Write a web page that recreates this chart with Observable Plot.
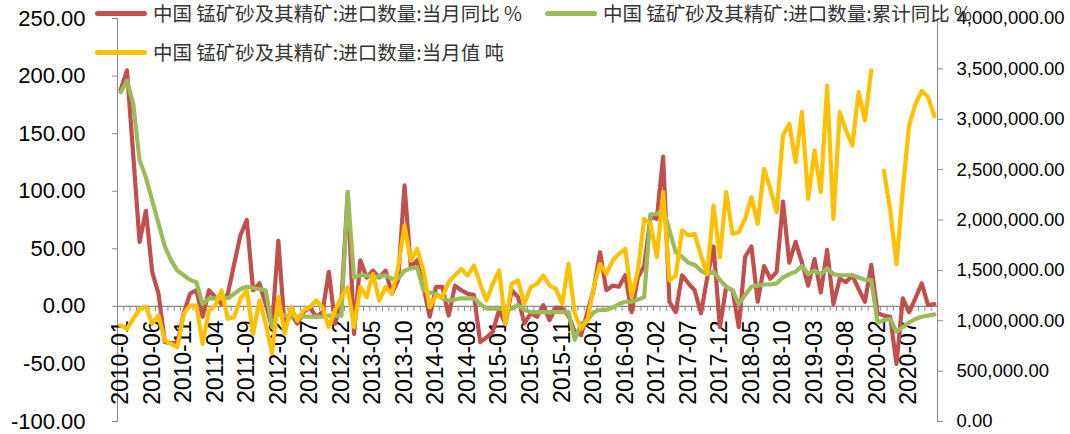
<!DOCTYPE html>
<html><head><meta charset="utf-8">
<script src="https://cdn.jsdelivr.net/npm/d3@7"></script>
<script src="https://cdn.jsdelivr.net/npm/@observablehq/plot@0.6"></script>
<style>
body{margin:0;background:#fff;}
#wrap{position:relative;width:1070px;height:434px;overflow:hidden;background:#fff;}
#wrap svg{position:absolute;left:0;top:0;background:transparent;}
.lg{position:absolute;display:flex;align-items:center;font-family:"Noto Sans CJK SC",sans-serif;font-size:19.5px;line-height:26px;color:#333;white-space:nowrap;}
.sw{width:52px;height:5px;border-radius:3px;margin-right:6px;}
</style></head><body><div id="wrap"></div>
<script>
// ---- categories (monthly; 2020-01 not reported) ----
const categories = [];
for (let y = 2010; y <= 2020; y++) for (let m = 1; m <= 12; m++) {
  const c = `${y}-${String(m).padStart(2, "0")}`;
  if (c === "2020-01") continue;
  if (c > "2020-11") continue;
  categories.push(c);
}
// ---- series ----
const seriesNames = [
  "中国 锰矿砂及其精矿:进口数量:当月同比 %",
  "中国 锰矿砂及其精矿:进口数量:累计同比 %",
  "中国 锰矿砂及其精矿:进口数量:当月值 吨"
];
const monthlyYoY = [188,205,131,56,83,30,11,-31,-32,-32,-6,11,14,-9,14,8,2,11,37,62,75,14,20,2,-18,57,-18,-6,-15,-5,-1,-9,-5,30,-15,5,99,-24,40,25,31,25,31,11,23,105,34,40,17,-9,17,17,-8,18,14,11,10,-31,-27,-22,-3,-15,14,8,-15,-6,-9,1,-12,-1,-2,-8,-22,-25,-5,15,47,14,18,17,27,-5,25,35,78,76,130,4,-5,27,20,14,-6,25,52,-18,17,14,-18,43,52,4,35,24,30,91,38,56,38,18,41,12,49,2,24,21,27,15,4,36,-6,-8,-9,-50,7,-5,7,20,1,2];
const cumulativeYoY = [186,196,176,127,112,92,72,52,40,31,27,23,21,2,7,7,8,7,11,15,17,16,15,14,-18,-5,-8,-8,-9,-9,-9,-9,-9,-8,-8,-8,99,25,27,27,25,26,27,24,24,31,33,34,14,12,11,7,5,6,7,7,7,2,-2,-2,-2,-3,-2,1,-3,-5,-5,-5,-5,-5,-5,-5,-29,-15,-12,-5,-3,-3,-1,2,4,4,6,8,80,80,85,66,47,43,38,36,31,28,30,23,17,14,2,10,17,18,19,19,20,25,28,30,35,28,31,28,33,28,27,27,27,25,23,23,-14,-12,-11,-22,-18,-14,-11,-9,-8,-7];
const monthlyTons = [953000,920000,1019000,1118000,1141000,970000,1052000,804000,771000,738000,1069000,1151000,1151000,771000,1102000,1151000,1300000,1020000,1036000,1220000,1300000,870000,1200000,970000,675000,1234000,870000,1135000,1002000,1102000,1135000,1201000,1135000,936000,1102000,1234000,1333000,936000,1333000,1234000,1466000,1201000,1333000,1267000,1531000,1945000,1598000,1714000,1499000,1135000,1250000,1233000,1383000,1449000,1515000,1449000,1548000,1366000,1201000,1366000,1499000,970000,1366000,1400000,1168000,1333000,1366000,1449000,1350000,1316000,1168000,1565000,1069000,920000,1002000,1333000,1565000,1466000,1598000,1664000,1714000,1234000,1499000,2012000,1962000,1631000,2276000,1400000,1449000,1896000,1846000,1863000,1648000,1466000,2144000,1631000,2276000,1863000,1879000,2012000,2226000,1962000,2508000,2309000,2077000,2839000,2954000,2574000,3070000,2210000,2690000,2276000,3335000,2012000,3070000,2888000,2739000,3269000,2987000,3484000,null,2490000,2100000,1560000,2300000,2940000,3150000,3280000,3220000,3030000];
const leftTicks = [-100,-50,0,50,100,150,200,250];
const rightTicks = [0,500000,1000000,1500000,2000000,2500000,3000000,3500000,4000000];
const labelCategories = categories.filter((d, i) => i % 5 === 0);
const colors = ["#C0504D", "#9BBB59", "#FFC000"];

const rows = categories.map((c, i) => ({c, red: monthlyYoY[i], green: cumulativeYoY[i], yellow: monthlyTons[i]}));

const W = 1070, H = 434, mL = 117, mR = 133, mT = 18, mB = 13;
const axisGray = "#898989";
const step = (W - mL - mR) / categories.length;

const base = {
  width: W, height: H, marginLeft: mL, marginRight: mR, marginTop: mT, marginBottom: mB,
  style: {fontFamily: "'Liberation Sans', Arial, sans-serif", color: "#000", background: "transparent"}
};

const main = Plot.plot({
  ...base,
  x: {type: "point", domain: categories, padding: 0.5, axis: null},
  y: {domain: [-100, 250], axis: null},
  marks: [
    Plot.frame({anchor: "left", stroke: axisGray}),
    Plot.ruleY([0], {stroke: axisGray, strokeWidth: 1.3}),
    Plot.ruleX(categories, {x: d => d, y1: () => 0, y2: () => 0, insetBottom: -5, dx: step / 2, stroke: axisGray}),
    Plot.axisY(leftTicks, {anchor: "left", tickSize: 5, tickPadding: 27, tickFormat: d => d.toFixed(2), fontSize: 22, stroke: axisGray, fill: "#000", label: null}),
    Plot.text(labelCategories, {x: d => d, y: () => 0, text: d => d, rotate: -90, textAnchor: "end", dy: 14, fontSize: 23, fill: "#000"}),
    Plot.lineY(rows, {x: "c", y: "red", stroke: colors[0], strokeWidth: 4.2, strokeLinejoin: "round", strokeLinecap: "round"}),
    Plot.lineY(rows, {x: "c", y: "green", stroke: colors[1], strokeWidth: 4.2, strokeLinejoin: "round", strokeLinecap: "round"})
  ]
});

const overlay = Plot.plot({
  ...base,
  x: {type: "point", domain: categories, padding: 0.5, axis: null},
  y: {domain: [0, 4000000], axis: null},
  marks: [
    Plot.frame({anchor: "right", stroke: axisGray}),
    Plot.axisY(rightTicks, {anchor: "right", tickSize: 5, tickPadding: 14, tickFormat: d3.format(",.2f"), fontSize: 18.5, stroke: axisGray, fill: "#000", label: null}),
    Plot.lineY(rows, {x: "c", y: "yellow", stroke: colors[2], strokeWidth: 4.2, strokeLinejoin: "round", strokeLinecap: "round"})
  ]
});

const wrap = document.getElementById("wrap");
wrap.appendChild(main);
wrap.appendChild(overlay);

// legend (HTML, over the chart)
const legendSpots = [{left: 95, top: 0}, {left: 545, top: 0}, {left: 95, top: 39}];
seriesNames.forEach((name, i) => {
  const d = document.createElement("div");
  d.className = "lg";
  d.style.left = legendSpots[i].left + "px";
  d.style.top = legendSpots[i].top + "px";
  const sw = document.createElement("span");
  sw.className = "sw";
  sw.style.background = colors[i];
  const t = document.createElement("span");
  t.textContent = name;
  d.appendChild(sw); d.appendChild(t);
  wrap.appendChild(d);
});
</script></body></html>
